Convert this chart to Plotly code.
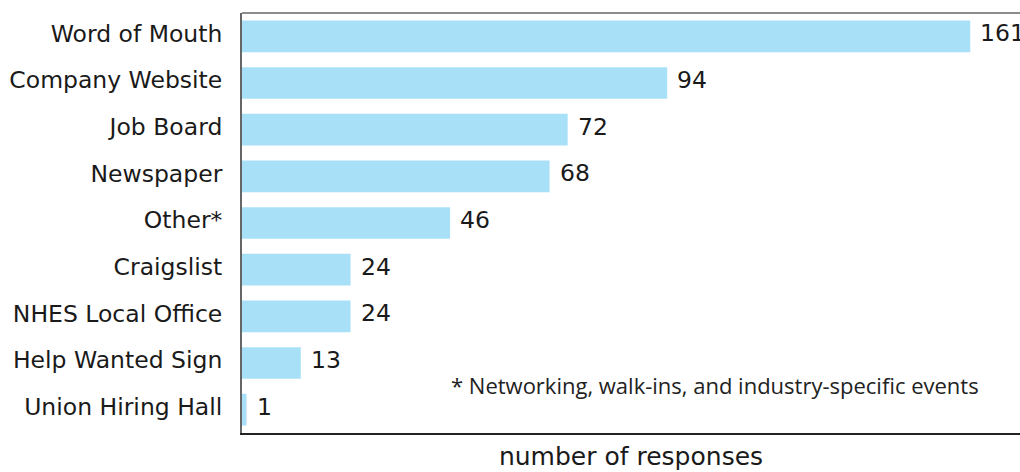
import plotly.graph_objects as go

# Survey: how respondents heard about the job
categories = [
    "Word of Mouth", "Company Website", "Job Board", "Newspaper", "Other*",
    "Craigslist", "NHES Local Office", "Help Wanted Sign", "Union Hiring Hall",
]
responses = [161, 94, 72, 68, 46, 24, 24, 13, 1]
footnote = "* Networking, walk-ins, and industry-specific events"
x_title = "number of responses"

BAR_COLOR = "#a8e0f8"
FONT = "DejaVu Sans"
TEXT_COLOR = "#1a1a1a"

fig = go.Figure()
fig.add_trace(go.Bar(
    x=responses,
    y=categories,
    orientation="h",
    marker=dict(color=BAR_COLOR, line=dict(width=0)),
    width=0.68,
    hoverinfo="x+y",
))

# value labels just right of each bar end
for cat, val in zip(categories, responses):
    fig.add_annotation(
        x=val, y=cat, xref="x", yref="y",
        text=str(val), showarrow=False,
        xanchor="left", yanchor="middle", xshift=8, yshift=3,
        font=dict(family=FONT, size=23.5, color=TEXT_COLOR),
    )

# footnote explaining "Other*"
fig.add_annotation(
    x=0.266, y=0.115, xref="paper", yref="paper",
    text=footnote, showarrow=False,
    xanchor="left", yanchor="middle",
    font=dict(family="Open Sans", size=22, color="#222"),
)

# thin frame line along the top of the plot area
fig.add_shape(
    type="line", xref="paper", yref="paper",
    x0=0, x1=1, y0=1, y1=1,
    line=dict(color="#666", width=1.5),
)

fig.update_layout(
    width=1020, height=472,
    margin=dict(l=242, r=0, t=13, b=39),
    paper_bgcolor="white",
    plot_bgcolor="white",
    showlegend=False,
    bargap=0.32,
    font=dict(family=FONT, size=23.5, color=TEXT_COLOR),
    xaxis=dict(
        range=[0, 172],
        showgrid=False, zeroline=False,
        showticklabels=False, ticks="",
        showline=True, linecolor="#222", linewidth=1.5,
        title=dict(text=x_title, font=dict(family=FONT, size=25, color=TEXT_COLOR),
                   standoff=14),
    ),
    yaxis=dict(
        categoryorder="array",
        categoryarray=categories[::-1],
        range=[-0.5, len(categories) - 0.5],
        showgrid=False, zeroline=False,
        showline=True, linecolor="#666", linewidth=2,
        ticks="", ticklabelstandoff=13, ticklabelshift=-3,
        tickfont=dict(family=FONT, size=23.5, color=TEXT_COLOR),
    ),
)

fig.write_html("out.html")
